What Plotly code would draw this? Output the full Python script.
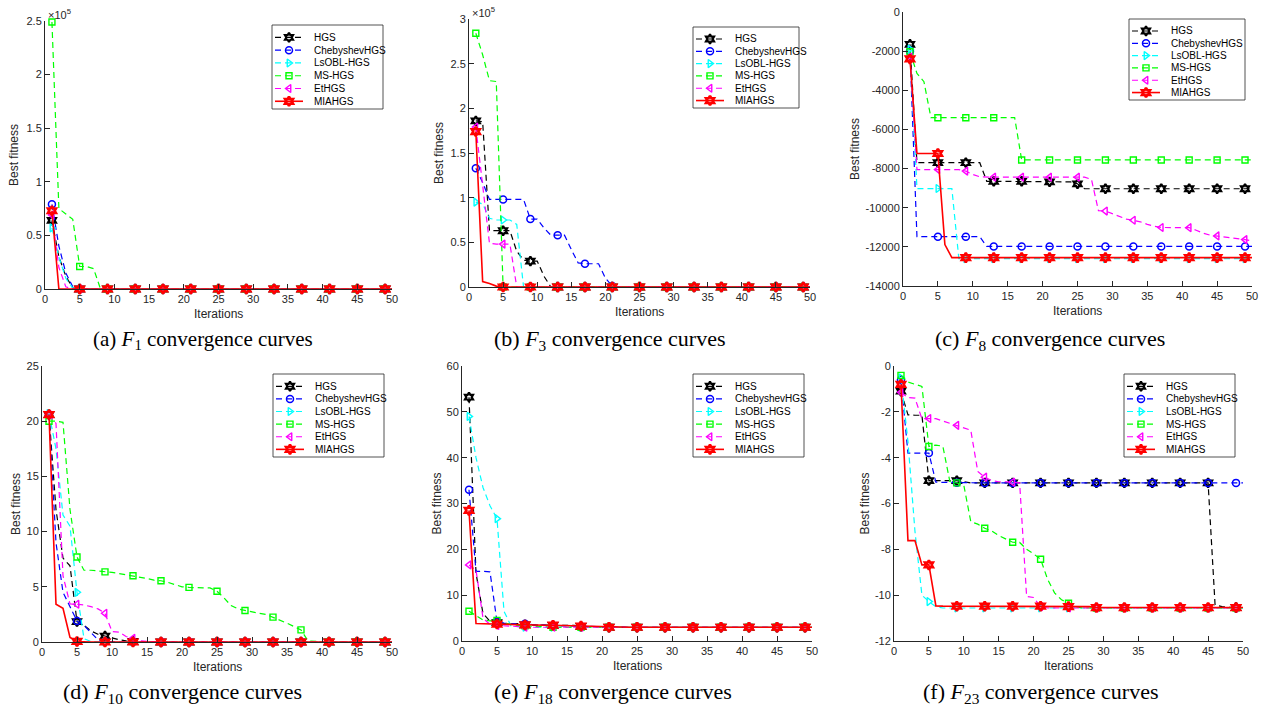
import plotly.graph_objects as go

W, H = 1266, 708

ITERATIONS = list(range(1, 51))
ALGORITHMS = ["HGS", "ChebyshevHGS", "LsOBL-HGS", "MS-HGS", "EtHGS", "MIAHGS"]
X_TICKS = [0, 5, 10, 15, 20, 25, 30, 35, 40, 45, 50]

# ---------------- (a) F1  (values in units of 1e5)
F1_HGS = [0.64, 0.30, 0.12, 0.01] + [0.0] * 46
F1_CHEB = [0.79, 0.40, 0.15, 0.02] + [0.0] * 46
F1_LSOBL = [0.57, 0.30, 0.10, 0.01] + [0.0] * 46
F1_MS = [2.49, 0.75, 0.70, 0.65, 0.21, 0.21, 0.19] + [0.0] * 43
F1_ET = [0.69, 0.20, 0.02] + [0.0] * 47
F1_MIA = [0.73] + [0.0] * 49
F1_YTICKS = [0, 0.5, 1, 1.5, 2, 2.5]

# ---------------- (b) F3  (values in units of 1e5)
F3_HGS = [1.86, 1.85, 0.63, 0.63, 0.63, 0.63, 0.40, 0.30, 0.29, 0.29, 0.12] + [0.0] * 39
F3_CHEB = [1.33, 1.17, 0.98, 0.98, 0.98, 0.98, 0.98, 0.98, 0.76, 0.76, 0.66, 0.58, 0.58,
           0.58, 0.42, 0.27, 0.26, 0.26, 0.26, 0.10, 0.01] + [0.0] * 29
F3_LSOBL = [0.95, 0.93, 0.77, 0.75, 0.75, 0.75, 0.70] + [0.0] * 43
F3_MS = [2.84, 2.60, 2.31, 2.30] + [0.0] * 46
F3_ET = [1.79, 1.15, 0.49, 0.48, 0.48, 0.48] + [0.0] * 44
F3_MIA = [1.74, 0.06, 0.04, 0.01] + [0.0] * 46
F3_YTICKS = [0, 0.5, 1, 1.5, 2, 2.5, 3]

# ---------------- (c) F8
F8_HGS = [-1650] + [-7700] * 10 + [-8650] * 9 + [-8680] * 4 + [-8780] + [-9030] * 25
F8_CHEB = [-2000] + [-11480] * 10 + [-11980] * 39
F8_LSOBL = [-1900] + [-9020] * 6 + [-12600] * 43
F8_MS = [-2030, -3140, -3560] + [-5400] * 13 + [-7560] * 34
F8_ET = ([-2300] + [-8050] * 7 + [-8130, -8300, -8420] + [-8440] * 15 + [-8550, -10150]
         + [-10170, -10300, -10450, -10580, -10640, -10720, -10850, -10950, -11010]
         + [-11020] * 4
         + [-11150, -11300, -11400, -11440, -11480, -11530, -11580, -11630, -11700])
F8_MIA = [-2400] + [-7230] * 4 + [-11880] + [-12550] * 44
F8_YTICKS = [-14000, -12000, -10000, -8000, -6000, -4000, -2000, 0]

# ---------------- (d) F10
F10_HGS = [20.6, 12.0, 7.6, 6.9, 1.84, 1.5, 1.0, 0.7, 0.54, 0.35, 0.2, 0.1, 0.05] + [0.0] * 37
F10_CHEB = [20.6, 9.0, 4.5, 3.2, 1.9, 1.5, 0.8, 0.2, 0.05] + [0.0] * 41
F10_LSOBL = [20.7, 17.5, 11.5, 10.5, 4.5, 0.3, 0.05] + [0.0] * 43
F10_MS = [20.0, 20.0, 19.9, 12.0, 7.7, 6.5, 6.5, 6.45, 6.35, 6.3, 6.2, 6.1, 6.0, 5.9,
          5.75, 5.6, 5.55, 5.4, 5.2, 5.0, 4.95, 4.9, 4.9, 4.9, 4.6, 4.0, 3.3, 3.0, 2.85,
          2.7, 2.6, 2.5, 2.25, 2.0, 1.7, 1.4, 1.1, 0.1, 0.05, 0.05] + [0.0] * 10
F10_ET = [20.6, 19.8, 6.0, 3.45, 3.42, 3.35, 3.2, 3.0, 2.6, 0.95, 0.9, 0.5, 0.33, 0.1,
          0.05] + [0.0] * 35
F10_MIA = [20.6, 3.42, 3.05, 0.42, 0.05] + [0.0] * 45
F10_YTICKS = [0, 5, 10, 15, 20, 25]

# ---------------- (e) F18
F18_HGS = [53.2, 14.8, 6.0, 4.3, 4.0, 3.8, 3.8, 3.8, 3.5, 3.5, 3.5, 3.5, 3.4, 3.4, 3.4,
           3.4, 3.2, 3.2, 3.2, 3.1] + [3.0] * 30
F18_CHEB = [33.0, 15.2, 15.2, 15.1, 4.2, 3.9, 3.8, 3.8, 3.75, 3.6, 3.5, 3.4, 3.35, 3.3,
            3.3, 3.25, 3.2, 3.15, 3.1, 3.05] + [3.0] * 30
F18_LSOBL = [49.0, 40.0, 33.5, 29.5, 26.7, 6.5, 3.3, 3.1] + [3.0] * 42
F18_MS = [6.5, 5.5, 4.6, 4.4, 4.5, 3.9, 3.6, 3.4, 3.3, 3.2, 3.2, 3.1] + [3.0] * 38
F18_ET = [16.6, 15.5, 5.0, 3.6, 3.4, 3.3, 3.2, 3.1] + [3.0] * 42
F18_MIA = [28.5, 3.8, 3.75, 3.7, 3.7, 3.65, 3.6, 3.55, 3.5, 3.5, 3.5, 3.45, 3.45, 3.4,
           3.35, 3.3, 3.25, 3.2, 3.1, 3.05] + [3.0] * 30
F18_YTICKS = [0, 10, 20, 30, 40, 50, 60]

# ---------------- (f) F23
F23_HGS = ([-1.1, -2.13, -2.15, -2.15, -5.0, -5.0, -5.0, -5.0, -5.0, -5.05] + [-5.1] * 35
           + [-10.43, -10.5, -10.53, -10.54, -10.54])
F23_CHEB = [-0.6, -3.8, -3.8, -3.8, -3.8, -5.07, -5.08, -5.08, -5.09, -5.09] + [-5.1] * 40
F23_LSOBL = [-0.52, -3.3, -7.2, -10.0, -10.28, -10.5] + [-10.56] * 44
F23_MS = [-0.41, -0.70, -0.80, -0.89, -3.51, -3.45, -3.50, -5.04, -5.10, -5.20, -6.79,
          -6.90, -7.08, -7.20, -7.40, -7.55, -7.69, -7.70, -8.00, -8.20, -8.43, -9.30,
          -9.90, -10.2, -10.35, -10.5] + [-10.56] * 24
F23_ET = [-1.15, -1.38, -1.40, -2.30, -2.29, -2.30, -2.40, -2.50, -2.59, -2.70, -2.80,
          -4.60, -4.85, -5.00, -5.05, -5.05, -5.07, -5.10, -10.06, -10.10, -10.50] + [-10.56] * 29
F23_MIA = [-0.80, -7.62, -7.62, -8.68, -8.68, -10.47] + [-10.48] * 18 + [-10.50] * 4 + [-10.54] * 22
F23_YTICKS = [-12, -10, -8, -6, -4, -2, 0]

CAPTIONS = [
    "(a) <i>F</i><sub>1</sub> convergence curves",
    "(b) <i>F</i><sub>3</sub> convergence curves",
    "(c) <i>F</i><sub>8</sub> convergence curves",
    "(d) <i>F</i><sub>10</sub> convergence curves",
    "(e) <i>F</i><sub>18</sub> convergence curves",
    "(f) <i>F</i><sub>23</sub> convergence curves",
]

PANEL_SERIES = [
    [F1_HGS, F1_CHEB, F1_LSOBL, F1_MS, F1_ET, F1_MIA],
    [F3_HGS, F3_CHEB, F3_LSOBL, F3_MS, F3_ET, F3_MIA],
    [F8_HGS, F8_CHEB, F8_LSOBL, F8_MS, F8_ET, F8_MIA],
    [F10_HGS, F10_CHEB, F10_LSOBL, F10_MS, F10_ET, F10_MIA],
    [F18_HGS, F18_CHEB, F18_LSOBL, F18_MS, F18_ET, F18_MIA],
    [F23_HGS, F23_CHEB, F23_LSOBL, F23_MS, F23_ET, F23_MIA],
]
PANEL_YTICKS = [F1_YTICKS, F3_YTICKS, F8_YTICKS, F10_YTICKS, F18_YTICKS, F23_YTICKS]
PANEL_EXPONENT = ["×10<sup>5</sup>", "×10<sup>5</sup>", None, None, None, None]

# ---------------- layout (pixels)
# plot box: x_left, x_right, y_top, y_bottom
AX_BOX = [(45, 392, 21, 289), (469, 810, 19, 287), (903, 1252, 12, 286),
          (42, 392, 366, 642), (462, 812, 366, 641), (894, 1243, 366, 641)]
YTITLE_OFFSET = [31, 30, 48, 26, 26, 30]
LEGEND_BOX = [(272, 25, 111, 84), (693, 27, 106, 81), (1129, 19, 116, 81),
              (273, 374, 111, 83), (693, 374, 111, 83), (1124, 374, 111, 83)]
CAPTION_POS = [(203, 340), (609, 340), (1050, 340), (182, 693), (613, 693), (1041, 693)]
CAPTION_SIZE = [21, 22, 22, 22, 22, 22]

STYLES = {
    "HGS": dict(color="#000000", dash="6px,4px", width=1.2, symbol="hexagram-open", size=7, mlw=2.2),
    "ChebyshevHGS": dict(color="#0000FF", dash="6px,4px", width=1.2, symbol="circle-open", size=7, mlw=1.5),
    "LsOBL-HGS": dict(color="#00FFFF", dash="6px,4px", width=1.2, symbol="triangle-right-open", size=7, mlw=1.4),
    "MS-HGS": dict(color="#00FF00", dash="6px,4px", width=1.2, symbol="square-open", size=6, mlw=1.4),
    "EtHGS": dict(color="#FF00FF", dash="6px,4px", width=1.2, symbol="triangle-left-open", size=7, mlw=1.4),
    "MIAHGS": dict(color="#FF0000", dash="solid", width=1.6, symbol="hexagram-open", size=7, mlw=2.6),
}

AXIS_COLOR = "#262626"
TICK_FONT = dict(family="Liberation Sans, Arial, sans-serif", size=11, color=AXIS_COLOR)

fig = go.Figure()
layout = dict(
    width=W, height=H, margin=dict(l=0, r=0, t=0, b=0),
    paper_bgcolor="white", plot_bgcolor="rgba(0,0,0,0)", showlegend=False,
)
annotations = []

for p in range(6):
    n = "" if p == 0 else str(p + 1)
    xa, ya = "x" + n, "y" + n
    x0, x1, yt, yb = AX_BOX[p]
    yt_vals = PANEL_YTICKS[p]
    for name, vals in zip(ALGORITHMS, PANEL_SERIES[p]):
        st = STYLES[name]
        fig.add_trace(go.Scatter(
            x=ITERATIONS, y=vals, mode="lines", name=name, xaxis=xa, yaxis=ya,
            line=dict(color=st["color"], width=st["width"], dash=st["dash"]),
            cliponaxis=False, showlegend=False, hoverinfo="skip"))
        fig.add_trace(go.Scatter(
            x=ITERATIONS[::4], y=vals[::4], mode="markers", name=name, xaxis=xa, yaxis=ya,
            marker=dict(symbol=st["symbol"], size=st["size"], color=st["color"],
                        line=dict(color=st["color"], width=st["mlw"])),
            cliponaxis=False, showlegend=False))
    layout["xaxis" + n] = dict(
        domain=[x0 / W, x1 / W], range=[0, 50], anchor=ya,
        tickvals=X_TICKS, ticktext=[str(v) for v in X_TICKS],
        ticks="inside", ticklen=5, tickwidth=1, tickcolor=AXIS_COLOR,
        showline=True, linecolor=AXIS_COLOR, linewidth=1, showgrid=False, zeroline=False,
        tickfont=TICK_FONT, fixedrange=True, automargin=False)
    layout["yaxis" + n] = dict(
        domain=[1 - yb / H, 1 - yt / H], range=[yt_vals[0], yt_vals[-1]], anchor=xa,
        tickvals=yt_vals, ticktext=[("%g" % v) for v in yt_vals],
        ticks="inside", ticklen=5, tickwidth=1, tickcolor=AXIS_COLOR,
        showline=True, linecolor=AXIS_COLOR, linewidth=1, showgrid=False, zeroline=False,
        tickfont=TICK_FONT, fixedrange=True, automargin=False)

    # axis titles, exponent and caption (pixel coordinates on the overlay axis)
    annotations.append(dict(x=(x0 + x1) / 2, y=yb + 25, text="Iterations", showarrow=False,
                            xref="x7", yref="y7", xanchor="center", yanchor="middle",
                            font=dict(family="Liberation Sans, Arial", size=12, color=AXIS_COLOR)))
    annotations.append(dict(x=x0 - YTITLE_OFFSET[p], y=(yt + yb) / 2, text="Best fitness",
                            showarrow=False, textangle=-90, xref="x7", yref="y7",
                            xanchor="center", yanchor="middle",
                            font=dict(family="Liberation Sans, Arial", size=12, color=AXIS_COLOR)))
    if PANEL_EXPONENT[p]:
        annotations.append(dict(x=x0 + 1, y=yt - 7, text=PANEL_EXPONENT[p], showarrow=False,
                                xref="x7", yref="y7", xanchor="left", yanchor="middle",
                                font=dict(family="Liberation Sans, Arial", size=11, color=AXIS_COLOR)))
    cx, cy = CAPTION_POS[p]
    annotations.append(dict(x=cx, y=cy, text=CAPTIONS[p], showarrow=False, xref="x7", yref="y7",
                            xanchor="center", yanchor="middle",
                            font=dict(family="Liberation Serif, Times New Roman, serif",
                                      size=CAPTION_SIZE[p], color="black")))

    # legend box
    L, T, LW, LH = LEGEND_BOX[p]
    fig.add_trace(go.Scatter(
        x=[L, L + LW, L + LW, L, L], y=[T, T, T + LH, T + LH, T], mode="lines",
        fill="toself", fillcolor="white", line=dict(color=AXIS_COLOR, width=0.8),
        xaxis="x7", yaxis="y7", showlegend=False, hoverinfo="skip"))
    for k, name in enumerate(ALGORITHMS):
        st = STYLES[name]
        row = T + LH * (0.148 + 0.152 * k)
        fig.add_trace(go.Scatter(
            x=[L + 3, L + 31], y=[row, row], mode="lines",
            line=dict(color=st["color"], width=st["width"], dash=st["dash"]),
            xaxis="x7", yaxis="y7", showlegend=False, hoverinfo="skip"))
        fig.add_trace(go.Scatter(
            x=[L + 17], y=[row], mode="markers",
            marker=dict(symbol=st["symbol"], size=st["size"], color=st["color"],
                        line=dict(color=st["color"], width=st["mlw"])),
            xaxis="x7", yaxis="y7", showlegend=False, hoverinfo="skip"))
        annotations.append(dict(x=L + 40, y=row, text=name, showarrow=False, xref="x7", yref="y7",
                                xanchor="left", yanchor="middle",
                                font=dict(family="Liberation Sans, Arial", size=10, color="black")))

layout["xaxis7"] = dict(domain=[0, 1], range=[0, W], visible=False, fixedrange=True, anchor="y7")
layout["yaxis7"] = dict(domain=[0, 1], range=[H, 0], visible=False, fixedrange=True, anchor="x7")
layout["annotations"] = annotations

fig.update_layout(**layout)
fig.write_html("out.html", config={"displayModeBar": False},
               post_script="document.body.style.margin='0';")
